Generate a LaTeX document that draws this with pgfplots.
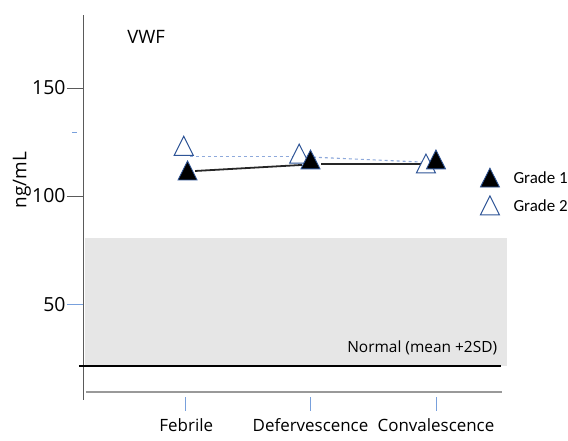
\documentclass[border=0pt]{standalone}
\usepackage{pgfplots}
\pgfplotsset{compat=1.18}
\usepackage{fontspec}
\setmainfont{Open Sans}
\newfontfamily\legfont{Carlito}
\definecolor{boxgray}{RGB}{230,230,230}
\definecolor{tickblue}{RGB}{120,160,220}
\definecolor{markblue}{RGB}{47,85,151}
\definecolor{dashblue}{RGB}{142,169,219}
\definecolor{axgray}{RGB}{90,90,90}

\begin{document}
\begin{tikzpicture}
\useasboundingbox (0,0) rectangle (568bp,441bp);
\begin{axis}[
  at={(83bp,41bp)}, anchor=south west,
  scale only axis, width=424bp, height=385bp,
  xmin=0.187, xmax=3.566, ymin=5.6, ymax=183.8,
  axis x line=none, axis y line*=left,
  y axis line style={axgray,line width=0.8pt,-},
  ytick={100,150}, xtick=\empty,
  extra y ticks={50},
  extra y tick style={major tick style={tickblue,line width=0.8pt}},
  major tick style={axgray,line width=0.8pt},
  tick align=outside, major tick length=16bp,
  yticklabel style={font=\fontsize{19.5}{22}\selectfont,xshift=2bp},
  /pgf/number format/assume math mode=true,
  clip=false,
]
  % normal range band
  \addplot[draw=none,fill=boxgray] coordinates {(0.203,21.3)(0.203,80.6)(3.566,80.6)(3.566,21.3)} -- cycle;
  \addplot[black,line width=2.6pt] coordinates {(0.155,21.3)(3.52,21.3)};
  \addplot[gray!80,line width=1.1pt] coordinates {(0.21,9.3)(3.53,9.3)};
  % category ticks
  \addplot[tickblue,line width=0.8pt] coordinates {(1,6.9)(1,0.5)};
  \addplot[tickblue,line width=0.8pt] coordinates {(2,6.9)(2,0.5)};
  \addplot[tickblue,line width=0.8pt] coordinates {(3,6.9)(3,0.5)};
  \addplot[tickblue,line width=0.8pt] coordinates {(0.10,129.5)(0.14,129.5)};
  % lines
  \addplot[dashblue,line width=1.1pt,dashed] coordinates {(1.04,118.1)(1.90,118.1)};
  \addplot[dashblue,line width=1.1pt,dashed] coordinates {(2.02,118.0)(2.90,115.7)};
  \addplot[black!85,line width=1.8pt] coordinates {(1.08,111.6)(1.932,114.4)};
  \addplot[black!85,line width=1.8pt] coordinates {(2.084,114.8)(2.888,114.8)};
  % markers
  \addplot[only marks,mark=triangle*,mark size=11bp,
    mark options={yscale=1.15,draw=markblue,fill=white,line width=1pt}]
    coordinates {(0.99,121.8)(1.91,118.2)(2.92,113.6)(3.43,94.2)};
  \addplot[only marks,mark=triangle*,mark size=11bp,
    mark options={yscale=1.15,draw=markblue,fill=black,line width=0.8pt}]
    coordinates {(1.02,110.4)(2.0,115.5)(3.0,115.5)(3.43,107.1)};
  % texts
  \node[anchor=west,font=\legfont\fontsize{17}{20}\selectfont] at (axis cs:3.59,108.3) {Grade 1};
  \node[anchor=west,font=\legfont\fontsize{17}{20}\selectfont] at (axis cs:3.59,95.4) {Grade 2};
  \node[font=\fontsize{18.5}{22}\selectfont] at (axis cs:0.69,173.6) {VWF};
  \node[rotate=90,font=\fontsize{19}{22}\selectfont] at (axis cs:-0.299,107.4) {ng/mL};
  \node[anchor=east,font=\fontsize{15.5}{18}\selectfont] at (axis cs:3.515,29.6) {Normal (mean +2SD)};
  \node[font=\fontsize{17}{20}\selectfont] at (axis cs:1.01,-6.0) {Febrile};
  \node[font=\fontsize{17}{20}\selectfont] at (axis cs:2.0,-6.0) {Defervescence};
  \node[font=\fontsize{17}{20}\selectfont] at (axis cs:3.0,-6.0) {Convalescence};
\end{axis}
\end{tikzpicture}
\end{document}
